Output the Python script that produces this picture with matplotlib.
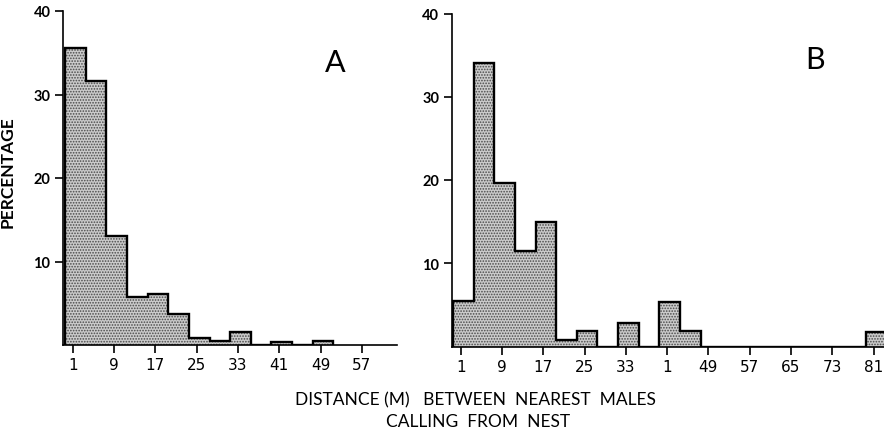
import numpy as np
import matplotlib
matplotlib.use("Agg")
import matplotlib.pyplot as plt

# Percentage of nearest-neighbour distances per 4 m class
bin_width = 4
first_edge = -0.5

pct_a = [35.6, 31.6, 13.1, 5.7, 6.1, 3.7, 0.8, 0.5, 1.5, 0.0, 0.3, 0.0, 0.5]
pct_b = [5.5, 34.0, 19.6, 11.5, 15.0, 0.75, 1.9, 0.0, 2.8, 0.0, 5.4, 1.9,
         0.0, 0.0, 0.0, 0.0, 0.0, 0.0, 0.0, 0.0, 1.8]

xticks_a = [1, 9, 17, 25, 33, 41, 49, 57]
xtick_labels_a = ["1", "9", "17", "25", "33", "41", "49", "57"]
xticks_b = [1, 9, 17, 25, 33, 41, 49, 57, 65, 73, 81]
xtick_labels_b = ["1", "9", "17", "25", "33", "1", "49", "57", "65", "73", "81"]
yticks = [10, 20, 30, 40]
ytick_labels = ["10", "20", "30", "40"]

plt.rcParams["hatch.linewidth"] = 0.8

LABEL_FONT = ["Lato", "DejaVu Sans"]
TICK_FONT = ["Liberation Sans Narrow", "DejaVu Sans"]

fig = plt.figure(figsize=(8.84, 4.35), dpi=100)

ax_a = fig.add_axes([63 / 884, 89 / 435, 333.9 / 884, 334 / 435])
ax_b = fig.add_axes([451.7 / 884, 87.5 / 435, 432.7 / 884, 333 / 435])


def draw_panel(ax, pct, xlim, ticks, tick_labels, letter, letter_xy):
    edges = first_edge + bin_width * np.arange(len(pct) + 1)
    ax.stairs(pct, edges, baseline=0, fill=True, facecolor="#cbcbcb",
              edgecolor="#4a4a4a", hatch="......", linewidth=0, zorder=1)
    ax.stairs(pct, edges, baseline=0, fill=False, color="black",
              linewidth=1.7, zorder=2)
    ax.set_xlim(*xlim)
    ax.set_ylim(0, 40)
    for side in ("top", "right"):
        ax.spines[side].set_visible(False)
    for side in ("left", "bottom"):
        ax.spines[side].set_linewidth(1.2)
        ax.spines[side].set_zorder(3)
    ax.set_xticks(ticks)
    ax.set_xticklabels(tick_labels, family=TICK_FONT, fontsize=11)
    ax.set_yticks(yticks)
    ax.set_yticklabels(ytick_labels, family=LABEL_FONT, fontsize=10.5,
                       fontweight="bold")
    ax.tick_params(axis="both", direction="out", length=6, width=1.2,
                   pad=3, color="black")
    ax.text(letter_xy[0], letter_xy[1], letter, fontsize=22,
            family=LABEL_FONT, ha="center", va="center")


draw_panel(ax_a, pct_a, (-0.9, 63.8), xticks_a, xtick_labels_a, "A", (51.8, 33.9))
draw_panel(ax_b, pct_b, (-0.75, 83.1), xticks_b, xtick_labels_b, "B", (69.7, 34.5))

ax_a.set_ylabel("PERCENTAGE", family=LABEL_FONT, fontsize=12.5,
                fontweight="bold", labelpad=14)
ax_a.yaxis.set_label_coords(-0.142, 0.52)

fig.text(475 / 884, 30 / 435, "DISTANCE (M)   BETWEEN  NEAREST  MALES",
         ha="center", va="baseline", family=LABEL_FONT, fontsize=12.5)
fig.text(478 / 884, 8 / 435, "CALLING  FROM  NEST",
         ha="center", va="baseline", family=LABEL_FONT, fontsize=12.5)

fig.savefig("out.png", dpi=100)
